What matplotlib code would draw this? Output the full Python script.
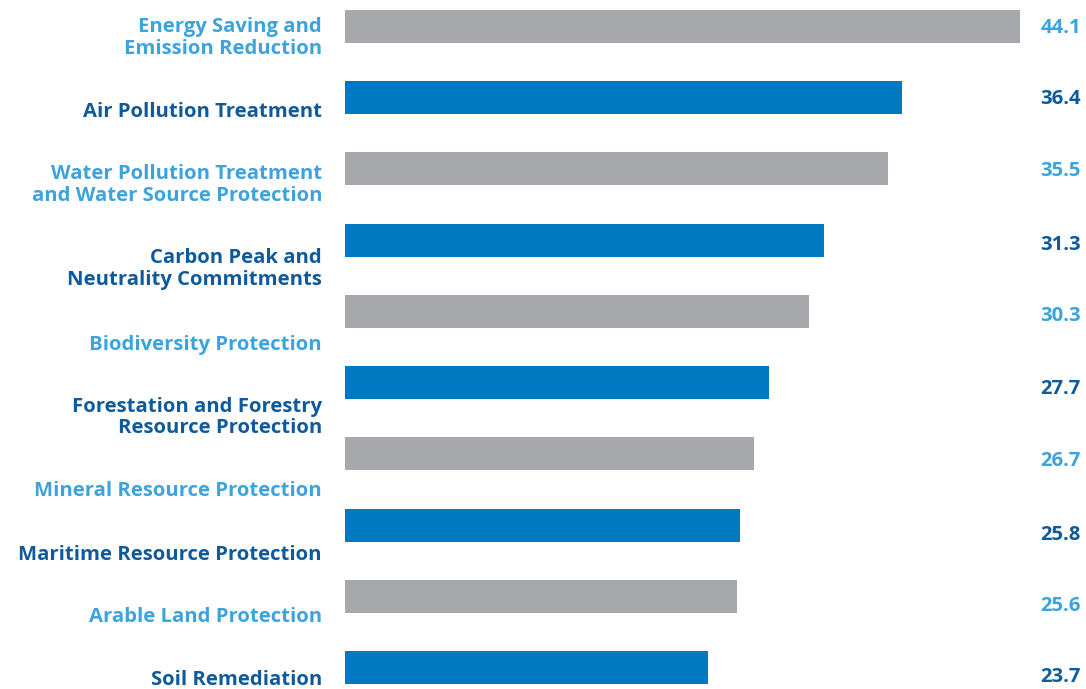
import matplotlib
matplotlib.use("Agg")
import matplotlib.pyplot as plt

# data
categories = [
    "Energy Saving and\nEmission Reduction",
    "Air Pollution Treatment",
    "Water Pollution Treatment\nand Water Source Protection",
    "Carbon Peak and\nNeutrality Commitments",
    "Biodiversity Protection",
    "Forestation and Forestry\nResource Protection",
    "Mineral Resource Protection",
    "Maritime Resource Protection",
    "Arable Land Protection",
    "Soil Remediation",
]
values = [44.1, 36.4, 35.5, 31.3, 30.3, 27.7, 26.7, 25.8, 25.6, 23.7]

# styling
bar_colors = ["#A7A8AB", "#0079C2"]
text_colors = ["#3DA3DD", "#0E5A9A"]
# manual vertical nudges (pixels, downward) as in the original layout
label_shift = [11.5, 14.5, 16, 29, 33.5, 35, 37.5, 29.5, 20.5, 12.5]
value_shift = [1.5, 1.5, 2.5, 4.5, 4.5, 6.5, 7.5, 9.5, 9.5, 9.5]

W, H = 1086, 689
step = 71.2
fig = plt.figure(figsize=(W / 100, H / 100), dpi=100)
ax = fig.add_axes([345 / W, 0, 675 / W, 1])

y = list(range(len(values)))
ax.barh(y, values, height=33 / step,
        color=[bar_colors[i % 2] for i in y])
ax.set_xlim(0, 44.1)
ax.set_ylim(9 + (H - 667.5) / step, -26.5 / step)
ax.axis("off")

font = dict(family=["Open Sans", "DejaVu Sans"], weight="bold",
            fontsize=14.6)
px = 44.1 / 675  # data units per pixel in x

for i, (cat, val) in enumerate(zip(categories, values)):
    c = text_colors[i % 2]
    ax.text(-23 * px, i + label_shift[i] / step, cat, ha="right",
            va="center", color=c, linespacing=1.1, clip_on=False, **font)
    ax.text(44.1 + 61 * px, i + value_shift[i] / step, f"{val:.1f}",
            ha="right", va="center", color=c, clip_on=False, **font)

fig.savefig("out.png", dpi=100)
